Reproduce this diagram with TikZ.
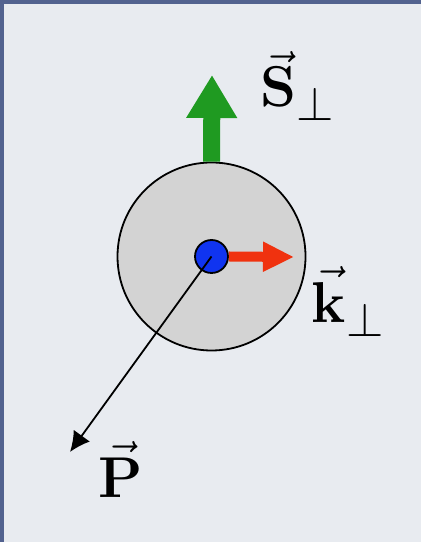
\documentclass[tikz,border=0pt]{standalone}
\usetikzlibrary{arrows.meta}
\usepackage{xcolor}
\definecolor{softframe}{HTML}{52628F}
\definecolor{softback}{HTML}{E8EBF0}
\definecolor{softgray}{HTML}{D3D3D3}
\definecolor{dotblue}{HTML}{1034F0}
\definecolor{kred}{HTML}{F0320F}
\definecolor{sgreen}{HTML}{1F9A21}
\DeclareMathSizes{14.4}{14.4}{12}{10}

\begin{document}
\begin{tikzpicture}[x=0.25pt,y=-0.25pt,vlabel/.style={font=\Large,inner sep=0pt,anchor=base west}]
\fill[softback] (0,0) rectangle (421,542);
\fill[softframe] (0,0) rectangle (421,4);
\fill[softframe] (0,0) rectangle (4,542);
\useasboundingbox (0,0) rectangle (421,542);
\node[circle,draw,fill=softgray,line width=.45pt,minimum size=47pt,inner sep=0pt] (hadron) at (211.5,256.5) {};
\node[circle,draw,fill=dotblue,line width=.45pt,minimum size=8.25pt,inner sep=0pt] (quark) at (hadron.center) {};
\coordinate (ktip) at (294,257);
\coordinate (stip) at (212,75);
\coordinate (ptip) at (70,452);
\draw[kred,line width=2.5pt,-{Triangle[width=7pt,length=7.75pt]}] (quark.east) -- (ktip);
\draw[sgreen,line width=4.25pt,-{Triangle[width=12pt,length=10.75pt]}] (hadron.north) -- (stip);
\draw[line width=.45pt,-{Latex[length=5pt,width=5pt]}] (quark.center) -- (ptip);
\node[vlabel] (slabel) at (260,107) {$\vec{\mathbf{S}}_\perp$};
\node[vlabel] (klabel) at (311,323) {$\vec{\mathbf{k}}_\perp$};
\node[vlabel] (plabel) at (98,497) {$\vec{\mathbf{P}}$};
\end{tikzpicture}
\end{document}
